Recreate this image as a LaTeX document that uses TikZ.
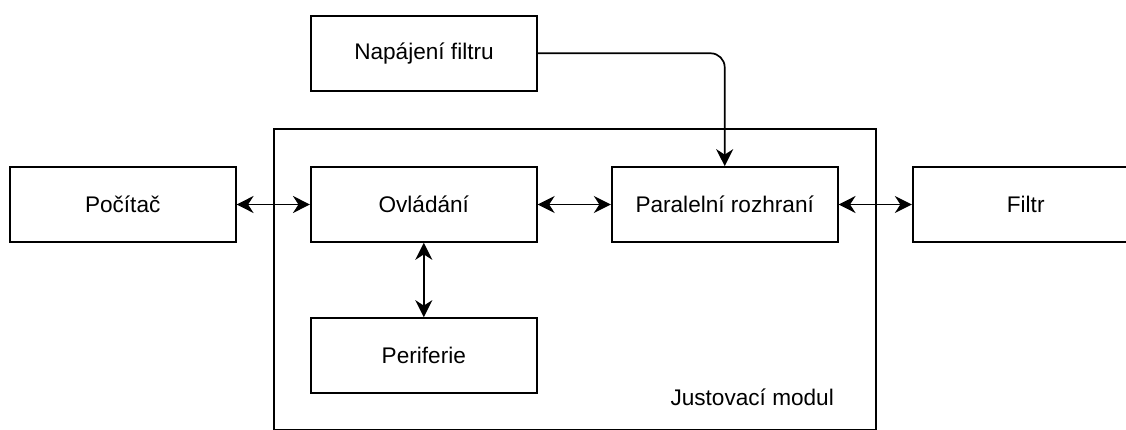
\documentclass[tikz,border=0pt]{standalone}
\usepackage{fontspec}
\setmainfont{Liberation Sans}
\usetikzlibrary{arrows.meta}
\begin{document}
\begin{tikzpicture}[x=1pt, y=-1pt,
  line width=1.7pt,
  block/.style={draw, fill=white, minimum width=226pt, minimum height=75pt,
    inner sep=0pt, font=\fontsize{22.6}{27}\selectfont},
  link/.style={{Stealth[length=17pt, width=17pt, inset=5.5pt]}-{Stealth[length=17pt, width=17pt, inset=5.5pt]}},
  feed/.style={-{Stealth[length=17pt, width=17pt, inset=5.5pt]}, rounded corners=14pt}]
  \useasboundingbox (0,0) rectangle (1126,430);
  \clip (0,0) rectangle (1126,430);
  % enclosing module
  \node[draw, minimum width=602pt, minimum height=300pt, inner sep=0pt, anchor=north west]
    (jm) at (273,128.5) {};
  \node[anchor=base east, font=\fontsize{22.6}{27}\selectfont] (jmlabel) at (838,405) {Justovací modul};
  % blocks
  \node[block] (nap) at (424,53.3) {Napájení filtru};
  \node[block] (poc) at (122.7,204.5) {Počítač};
  \node[block] (ovl) at (423.8,204.5) {Ovládání};
  \node[block] (par) at (724.7,204.5) {Paralelní rozhraní};
  \node[block] (fil) at (1025.7,204.5) {Filtr};
  \node[block] (per) at (423.8,355.5) {Periferie};
  % connections
  \draw[link] (poc.east) -- (ovl.west);
  \draw[link] (ovl.east) -- (par.west);
  \draw[link] (par.east) -- (fil.west);
  \draw[link] (ovl.south) -- (per.north);
  \draw[feed] (nap.east) -| (par.north);
\end{tikzpicture}
\end{document}
